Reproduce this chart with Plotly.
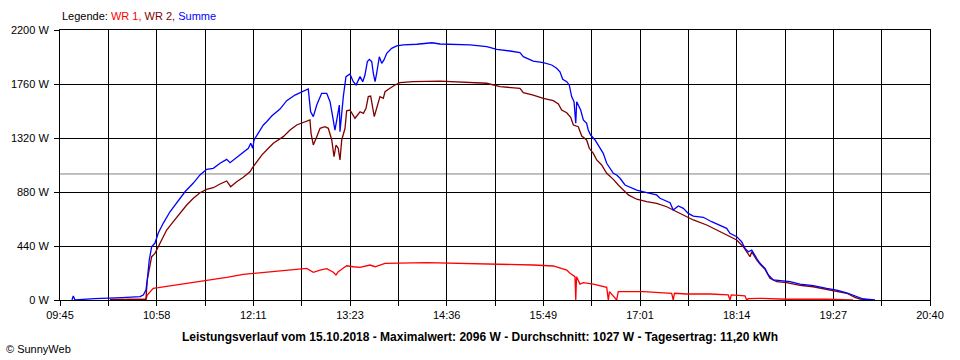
import plotly.graph_objects as go

# ---------------- data ----------------
summe_t = ["09:54:00", "09:55:00", "09:56:18", "10:11:00", "10:31:42", "10:45:12", "10:47:42", "10:49:42",
           "10:50:42", "10:52:12", "10:54:00", "10:56:30", "10:59:00", "11:02:48", "11:07:48", "11:12:54",
           "11:19:06", "11:25:24", "11:30:24", "11:35:24", "11:40:24", "11:45:30", "11:50:30", "11:53:00",
           "11:56:48", "12:01:48", "12:06:48", "12:08:36", "12:10:06", "12:11:06", "12:15:36", "12:18:06",
           "12:20:36", "12:24:24", "12:30:36", "12:35:42", "12:41:54", "12:48:12", "12:51:54", "12:53:42",
           "12:55:42", "12:58:18", "13:02:00", "13:05:48", "13:08:18", "13:10:18", "13:12:00", "13:13:48",
           "13:15:18", "13:15:48", "13:17:06", "13:18:18", "13:20:18", "13:23:18", "13:25:48", "13:27:54",
           "13:30:54", "13:32:54", "13:34:36", "13:36:24", "13:37:54", "13:39:42", "13:40:54", "13:42:12",
           "13:43:24", "13:45:24", "13:47:12", "13:48:54", "13:51:00", "13:54:42", "13:58:30", "14:03:30",
           "14:13:36", "14:25:00", "14:31:06", "14:41:06", "14:53:42", "15:06:18", "15:13:48", "15:23:48",
           "15:31:18", "15:33:48", "15:41:18", "15:48:54", "15:55:12", "15:58:54", "16:01:24", "16:03:30",
           "16:06:30", "16:08:24", "16:10:12", "16:12:00", "16:13:18", "16:14:00", "16:17:00", "16:19:00",
           "16:21:30", "16:22:42", "16:24:30", "16:27:48", "16:31:30", "16:34:00", "16:36:36", "16:39:06",
           "16:41:36", "16:44:06", "16:46:36", "16:50:24", "16:54:06", "16:59:12", "17:06:42", "17:14:12",
           "17:16:42", "17:24:18", "17:26:42", "17:30:30", "17:34:18", "17:38:00", "17:41:48", "17:49:18",
           "17:55:36", "18:01:54", "18:06:54", "18:09:24", "18:14:30", "18:18:12", "18:20:42", "18:23:12",
           "18:25:48", "18:29:30", "18:32:00", "18:35:48", "18:38:18", "18:42:00", "18:47:06", "18:54:36",
           "19:02:06", "19:12:06", "19:22:12", "19:29:48", "19:37:18", "19:44:48", "19:49:48", "19:58:36"]
summe_w = [0, 33, 0, 12, 20, 27, 41, 81,
           163, 326, 434, 464, 546, 627, 719, 790,
           882, 953, 1019, 1065, 1073, 1114, 1146, 1119,
           1151, 1195, 1236, 1277, 1236, 1304, 1385, 1426,
           1453, 1499, 1556, 1624, 1670, 1697, 1719, 1534,
           1494, 1589, 1684, 1684, 1616, 1494, 1385, 1494,
           1589, 1371, 1534, 1657, 1820, 1841, 1779, 1752,
           1820, 1779, 1833, 1942, 1961, 1942, 1847, 1779,
           1847, 1982, 1929, 1956, 2010, 2051, 2070, 2078,
           2084, 2096, 2086, 2080, 2078, 2064, 2043, 2029,
           2015, 1983, 1947, 1934, 1915, 1888, 1860, 1798,
           1779, 1752, 1657, 1616, 1440, 1616, 1548, 1467,
           1440, 1385, 1344, 1304, 1236, 1195, 1114, 1073,
           1032, 1019, 992, 937, 918, 896, 874, 856,
           829, 793, 733, 766, 747, 706, 684, 674,
           638, 605, 584, 543, 516, 475, 421, 393,
           407, 340, 299, 258, 204, 163, 157, 149,
           130, 117, 95, 81, 59, 27, 8, 0]

wr2_t = ["10:22:36", "10:49:42", "10:50:42", "10:52:12", "10:54:00", "10:56:30", "10:58:18", "11:01:36",
         "11:05:18", "11:10:18", "11:15:18", "11:20:24", "11:25:24", "11:30:24", "11:35:24", "11:40:24",
         "11:45:30", "11:50:30", "11:53:30", "11:58:00", "12:03:00", "12:08:00", "12:10:30", "12:13:06",
         "12:16:54", "12:20:36", "12:25:36", "12:33:06", "12:38:12", "12:43:12", "12:50:42", "12:53:12",
         "12:54:00", "12:55:42", "12:58:18", "13:00:48", "13:04:30", "13:07:00", "13:09:36", "13:11:18",
         "13:12:48", "13:14:30", "13:15:48", "13:17:06", "13:19:36", "13:20:48", "13:23:18", "13:27:06",
         "13:30:54", "13:33:24", "13:35:24", "13:37:06", "13:38:54", "13:40:24", "13:41:36", "13:43:24",
         "13:45:54", "13:48:24", "13:49:42", "13:53:24", "13:57:12", "14:01:00", "14:11:00", "14:31:06",
         "14:41:06", "15:06:18", "15:16:18", "15:31:18", "15:33:48", "15:41:18", "15:48:54", "15:56:24",
         "16:00:12", "16:02:42", "16:06:30", "16:09:30", "16:11:30", "16:15:12", "16:17:48", "16:21:30",
         "16:23:30", "16:26:30", "16:29:06", "16:32:48", "16:36:36", "16:41:36", "16:45:18", "16:50:24",
         "16:52:54", "16:59:12", "17:06:42", "17:14:12", "17:21:48", "17:29:18", "17:36:48", "17:41:48",
         "17:51:54", "17:59:24", "18:06:54", "18:14:30", "18:19:24", "18:22:00", "18:24:30", "18:25:48",
         "18:29:30", "18:32:00", "18:35:48", "18:39:30", "18:44:36", "18:52:06", "19:02:06", "19:12:06",
         "19:22:12", "19:29:48", "19:37:18", "19:43:30", "19:47:18", "19:54:48"]
wr2_w = [5, 5, 163, 258, 353, 380, 421, 489,
         570, 638, 706, 774, 829, 874, 902, 915,
         945, 970, 923, 964, 1000, 1045, 1086, 1127,
         1181, 1222, 1277, 1331, 1385, 1426, 1461, 1467,
         1358, 1263, 1331, 1399, 1412, 1399, 1304, 1168,
         1263, 1236, 1141, 1304, 1399, 1542, 1548, 1481,
         1534, 1521, 1562, 1657, 1662, 1575, 1494, 1562,
         1657, 1643, 1697, 1725, 1752, 1771, 1779, 1784,
         1779, 1766, 1738, 1725, 1689, 1670, 1643, 1624,
         1597, 1548, 1526, 1489, 1426, 1412, 1336, 1304,
         1236, 1195, 1141, 1100, 1032, 983, 937, 882,
         856, 821, 801, 788, 760, 719, 679, 652,
         611, 570, 530, 489, 434, 393, 353, 393,
         326, 293, 250, 177, 149, 141, 120, 108,
         87, 76, 55, 22, 8, 0]

wr1_t = ["10:35:12", "10:49:42", "10:50:42", "10:52:48", "10:55:12", "10:59:00", "11:12:54", "11:25:24",
         "11:37:54", "11:50:30", "12:03:00", "12:15:36", "12:28:06", "12:40:36", "12:50:42", "12:55:42",
         "13:00:48", "13:05:48", "13:10:48", "13:12:48", "13:14:30", "13:17:06", "13:20:48", "13:25:48",
         "13:30:54", "13:38:24", "13:42:12", "13:45:54", "13:49:42", "14:21:06", "14:46:06", "15:16:18",
         "15:41:18", "15:56:24", "16:01:24", "16:06:30", "16:09:00", "16:12:42", "16:13:18", "16:13:54",
         "16:16:30", "16:19:00", "16:26:30", "16:31:30", "16:36:36", "16:37:48", "16:38:42", "16:44:06",
         "16:45:18", "17:04:12", "17:16:42", "17:25:30", "17:26:42", "17:27:36", "17:36:48", "17:54:24",
         "18:08:06", "18:09:24", "18:10:24", "18:20:42", "18:22:00", "18:23:12", "18:32:00", "18:52:06",
         "19:22:12", "19:42:00"]
wr1_w = [5, 5, 41, 68, 95, 100, 122, 144,
         163, 185, 209, 222, 236, 250, 258, 226,
         244, 255, 226, 204, 231, 250, 279, 271,
         266, 285, 271, 285, 299, 304, 299, 293,
         285, 277, 258, 244, 218, 190, 0, 190,
         130, 141, 130, 114, 103, 0, 68, 0,
         68, 68, 59, 55, 0, 55, 49, 49,
         41, 0, 41, 33, 0, 11, 14, 6,
         6, 0]

durchschnitt_w = 1027

x_start, x_end = "09:45:00", "20:40:00"
x_labels = ["09:45", "10:58", "12:11", "13:23", "14:36", "15:49", "17:01", "18:14", "19:27", "20:40"]
y_ticks = [0, 440, 880, 1320, 1760, 2200]
y_labels = ["0 W", "440 W", "880 W", "1320 W", "1760 W", "2200 W"]

title_text = ("Leistungsverlauf vom 15.10.2018 - Maximalwert: 2096 W - Durchschnitt: 1027 W"
              " - Tagesertrag: 11,20 kWh")


def to_min(s):
    p = s.split(":")
    return int(p[0]) * 60 + int(p[1]) + (int(p[2]) / 60 if len(p) > 2 else 0)


x0, x1 = to_min(x_start), to_min(x_end)
n_int = 2 * (len(x_labels) - 1)
tickvals = [x0 + i * (x1 - x0) / n_int for i in range(n_int + 1)]
ticktext = []
for i in range(n_int + 1):
    ticktext.append(x_labels[i // 2] if i % 2 == 0 else "")

FONT = "Liberation Sans, Arial, sans-serif"

fig = go.Figure()
series = [
    ("WR 1", wr1_t, wr1_w, "#FF0000"),
    ("WR 2", wr2_t, wr2_w, "#800000"),
    ("Summe", summe_t, summe_w, "#0000FF"),
]
for name, tt, ww, col in series:
    fig.add_trace(go.Scatter(
        x=[to_min(t) for t in tt], y=ww, name=name, mode="lines",
        line=dict(color=col, width=1.3, shape="linear"), hoverinfo="skip",
    ))

# average line
fig.add_shape(type="line", xref="paper", yref="y", x0=0, x1=1,
              y0=durchschnitt_w, y1=durchschnitt_w,
              line=dict(color="#808080", width=1), layer="below")

fig.update_layout(
    width=960, height=360,
    margin=dict(l=60, r=30, t=30, b=60),
    paper_bgcolor="white", plot_bgcolor="white",
    showlegend=False,
    font=dict(family=FONT, size=11, color="black"),
    xaxis=dict(range=[x0, x1], tickmode="array", tickvals=tickvals, ticktext=ticktext,
               showgrid=True, gridcolor="black", gridwidth=1,
               showline=True, linecolor="black", linewidth=1, mirror=True,
               ticks="outside", ticklen=5, tickcolor="black", tickwidth=1,
               zeroline=False, tickfont=dict(family=FONT, size=11)),
    yaxis=dict(range=[0, 2200], tickmode="array", tickvals=y_ticks, ticktext=y_labels,
               showgrid=True, gridcolor="black", gridwidth=1,
               showline=True, linecolor="black", linewidth=1, mirror=True,
               ticks="outside", ticklen=5, tickcolor="black", tickwidth=1,
               ticklabelstandoff=3,
               zeroline=False, tickfont=dict(family=FONT, size=11)),
    annotations=[
        dict(xref="paper", yref="paper", x=0, y=(300 - 16) / 270, xanchor="left", yanchor="middle",
             showarrow=False, font=dict(family=FONT, size=11, color="black"),
             text=("Legende: <span style='color:#FF0000'>WR 1,</span> "
                   "<span style='color:#800000'>WR 2,</span> "
                   "<span style='color:#0000FF'>Summe</span>")),
        dict(xref="paper", yref="paper", x=(479.5 - 60) / 870, y=(300 - 337) / 270,
             xanchor="center", yanchor="middle", showarrow=False,
             font=dict(family=FONT, size=12, color="black"), text="<b>" + title_text + "</b>"),
        dict(xref="paper", yref="paper", x=(4 - 60) / 870, y=(300 - 349) / 270,
             xanchor="left", yanchor="middle", showarrow=False,
             font=dict(family=FONT, size=11, color="black"), text="© SunnyWeb"),
    ],
)

fig.write_html("out.html", config={"displayModeBar": False},
               post_script="document.body.style.margin='0';document.body.style.overflow='hidden';")
